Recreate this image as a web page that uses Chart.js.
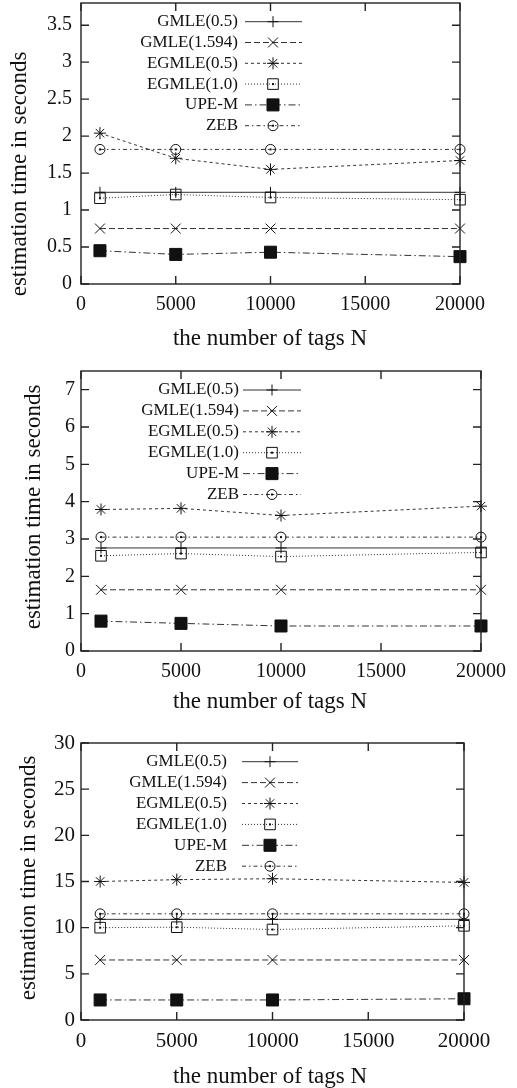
<!DOCTYPE html>
<html>
<head>
<meta charset="utf-8">
<script src="https://cdn.jsdelivr.net/npm/chart.js@4/dist/chart.umd.min.js"></script>
<style>
  body { margin: 0; background: #fff; }
  canvas { display: block; }
</style>
</head>
<body>
<canvas id="panelA" width="517" height="360"></canvas>
<canvas id="panelB" width="517" height="365"></canvas>
<canvas id="panelC" width="517" height="363"></canvas>
<script>
// data
const tagCounts = [1000, 5000, 10000, 20000];
const seriesNames = ['GMLE(0.5)', 'GMLE(1.594)', 'EGMLE(0.5)', 'EGMLE(1.0)', 'UPE-M', 'ZEB'];

// top panel
const gmle05A = [1.24, 1.24, 1.24, 1.24];
const gmle1594A = [0.75, 0.75, 0.75, 0.75];
const egmle05A = [2.04, 1.70, 1.55, 1.67];
const egmle10A = [1.16, 1.21, 1.17, 1.14];
const upemA = [0.45, 0.40, 0.43, 0.37];
const zebA = [1.82, 1.82, 1.82, 1.82];

// middle panel
const gmle05B = [2.76, 2.76, 2.76, 2.76];
const gmle1594B = [1.64, 1.64, 1.64, 1.64];
const egmle05B = [3.79, 3.82, 3.63, 3.88];
const egmle10B = [2.55, 2.61, 2.53, 2.64];
const upemB = [0.80, 0.74, 0.67, 0.67];
const zebB = [3.05, 3.05, 3.05, 3.05];

// bottom panel
const gmle05C = [10.9, 10.9, 10.9, 10.9];
const gmle1594C = [6.5, 6.5, 6.5, 6.5];
const egmle05C = [15.0, 15.2, 15.3, 14.9];
const egmle10C = [10.0, 10.05, 9.8, 10.2];
const upemC = [2.17, 2.17, 2.17, 2.3];
const zebC = [11.5, 11.5, 11.5, 11.5];

const xTitle = 'the number of tags N';
const yTitle = 'estimation time in seconds';

Chart.defaults.font.family = "'Liberation Serif', 'DejaVu Serif', serif";
Chart.defaults.color = '#111';

// gnuplot-like line + marker look for each series
const seriesStyles = [
  { pointStyle: 'cross', radius: 5.5, dash: [], filled: false, dot: false },
  { pointStyle: 'crossRot', radius: 7, dash: [6, 3], filled: false, dot: false },
  { pointStyle: 'star', radius: 6, dash: [3, 3], filled: false, dot: false },
  { pointStyle: 'rect', radius: 7.5, dash: [1, 2], filled: false, dot: true },
  { pointStyle: 'rect', radius: 8.5, dash: [7, 3, 1.5, 3], filled: true, dot: false },
  { pointStyle: 'circle', radius: 5, dash: [4, 3, 1.5, 3], filled: false, dot: true },
];

// small centre dot inside the open square and circle markers
function centerDot(ctx, x, y) {
  ctx.fillStyle = '#111';
  ctx.fillRect(x - 1, y - 1, 2, 2);
}

// frame with inward ticks on all four sides
const gnuplotFrame = {
  id: 'gnuplotFrame',
  afterDatasetsDraw(chart) {
    const { ctx, chartArea: a, scales: { x, y } } = chart;
    ctx.save();
    chart.data.datasets.forEach((ds, i) => {
      if (!seriesStyles[i].dot) return;
      chart.getDatasetMeta(i).data.forEach(pt => centerDot(ctx, pt.x, pt.y));
    });
    ctx.strokeStyle = '#222';
    ctx.lineWidth = 1.4;
    ctx.setLineDash([]);
    ctx.strokeRect(a.left, a.top, a.right - a.left, a.bottom - a.top);
    ctx.beginPath();
    y.ticks.forEach(t => {
      const py = y.getPixelForValue(t.value);
      ctx.moveTo(a.left, py); ctx.lineTo(a.left + 8, py);
      ctx.moveTo(a.right, py); ctx.lineTo(a.right - 8, py);
    });
    x.ticks.forEach(t => {
      const px = x.getPixelForValue(t.value);
      ctx.moveTo(px, a.bottom); ctx.lineTo(px, a.bottom - 8);
      ctx.moveTo(px, a.top); ctx.lineTo(px, a.top + 8);
    });
    ctx.stroke();
    ctx.restore();
  }
};

// axis titles and the legend, placed like the original
const gnuplotText = {
  id: 'gnuplotText',
  afterDraw(chart, args, opts) {
    const ctx = chart.ctx;
    ctx.save();
    ctx.fillStyle = '#111';
    ctx.font = "23px 'Liberation Serif', serif";
    ctx.textAlign = 'center';
    ctx.textBaseline = 'middle';
    ctx.fillText(xTitle, opts.xTitle[0], opts.xTitle[1]);
    ctx.save();
    ctx.translate(opts.yTitle[0], opts.yTitle[1]);
    ctx.rotate(-Math.PI / 2);
    ctx.fillText(yTitle, 0, 0);
    ctx.restore();

    const lg = opts.legend;
    ctx.font = "17px 'Liberation Serif', serif";
    ctx.textAlign = 'right';
    chart.data.datasets.forEach((ds, i) => {
      const rowY = lg.top + i * lg.step;
      ctx.fillStyle = '#111';
      ctx.fillText(ds.label, lg.textRight, rowY);
      ctx.strokeStyle = ds.borderColor;
      ctx.lineWidth = 1;
      ctx.setLineDash(ds.borderDash);
      ctx.beginPath();
      ctx.moveTo(lg.x1, rowY);
      ctx.lineTo(lg.x2, rowY);
      ctx.stroke();
      ctx.setLineDash([]);
      ctx.strokeStyle = '#111';
      ctx.fillStyle = ds.pointBackgroundColor;
      Chart.helpers.drawPoint(ctx, {
        pointStyle: ds.pointStyle, radius: ds.pointRadius, rotation: 0, borderWidth: 1
      }, lg.mark, rowY);
      if (seriesStyles[i].dot) centerDot(ctx, lg.mark, rowY);
    });
    ctx.restore();
  }
};

function makePanel(id, values, opts) {
  const datasets = values.map((vals, i) => {
    const st = seriesStyles[i];
    return {
      label: seriesNames[i],
      data: tagCounts.map((n, j) => ({ x: n, y: vals[j] })),
      borderColor: '#333',
      borderWidth: 1,
      borderDash: st.dash,
      pointStyle: st.pointStyle,
      pointRadius: st.radius,
      pointBorderWidth: 1,
      pointBorderColor: '#111',
      pointBackgroundColor: st.filled ? '#111' : 'rgba(0,0,0,0)',
      tension: 0,
      fill: false,
      clip: false,
    };
  });

  return new Chart(document.getElementById(id), {
    type: 'line',
    data: { datasets: datasets },
    options: {
      responsive: false,
      animation: false,
      layout: { autoPadding: false, padding: { left: 0, right: opts.right, top: opts.top, bottom: 0 } },
      plugins: {
        legend: { display: false },
        tooltip: { enabled: false },
        gnuplotText: { xTitle: opts.xTitle, yTitle: opts.yTitle, legend: opts.legend },
      },
      scales: {
        x: {
          type: 'linear',
          min: 0,
          max: 20000,
          grid: { display: false, drawTicks: false },
          border: { display: false },
          ticks: {
            stepSize: 5000, padding: 9, maxRotation: 0, includeBounds: false,
            font: { size: opts.tickSize },
            callback: v => String(v),
          },
          afterFit: (scale) => {
            scale.height = opts.xAxisHeight;
            scale.paddingLeft = 0; scale.paddingRight = 0;
          },
        },
        y: {
          min: 0,
          max: opts.yMax,
          grid: { display: false, drawTicks: false },
          border: { display: false },
          ticks: {
            stepSize: opts.yStep, padding: opts.yPad, includeBounds: false,
            font: { size: opts.tickSize },
            callback: v => String(v),
          },
          afterFit: (scale) => {
            scale.width = 81;
            scale.paddingTop = 0; scale.paddingBottom = 0;
          },
        },
      },
    },
    plugins: [gnuplotFrame, gnuplotText],
  });
}

makePanel('panelA', [gmle05A, gmle1594A, egmle05A, egmle10A, upemA, zebA], {
  right: 57, top: 3, xAxisHeight: 76, yMax: 3.8, yStep: 0.5, yPad: 9, tickSize: 20,
  xTitle: [270, 339], yTitle: [20, 174],
  legend: { textRight: 238, x1: 245, x2: 302, mark: 273, top: 21.7, step: 20.8 },
});

makePanel('panelB', [gmle05B, gmle1594B, egmle05B, egmle10B, upemB, zebB], {
  right: 36, top: 11, xAxisHeight: 74, yMax: 7.5, yStep: 1, yPad: 6, tickSize: 20,
  xTitle: [270, 342], yTitle: [34, 147],
  legend: { textRight: 239, x1: 243, x2: 301, mark: 272, top: 30, step: 20.9 },
});

makePanel('panelC', [gmle05C, gmle1594C, egmle05C, egmle10C, upemC, zebC], {
  right: 53, top: 18, xAxisHeight: 68, yMax: 30, yStep: 5, yPad: 6, tickSize: 21,
  xTitle: [270, 352], yTitle: [29, 153],
  legend: { textRight: 227, x1: 242, x2: 298, mark: 270, top: 36.7, step: 20.9 },
});
</script>
</body>
</html>
